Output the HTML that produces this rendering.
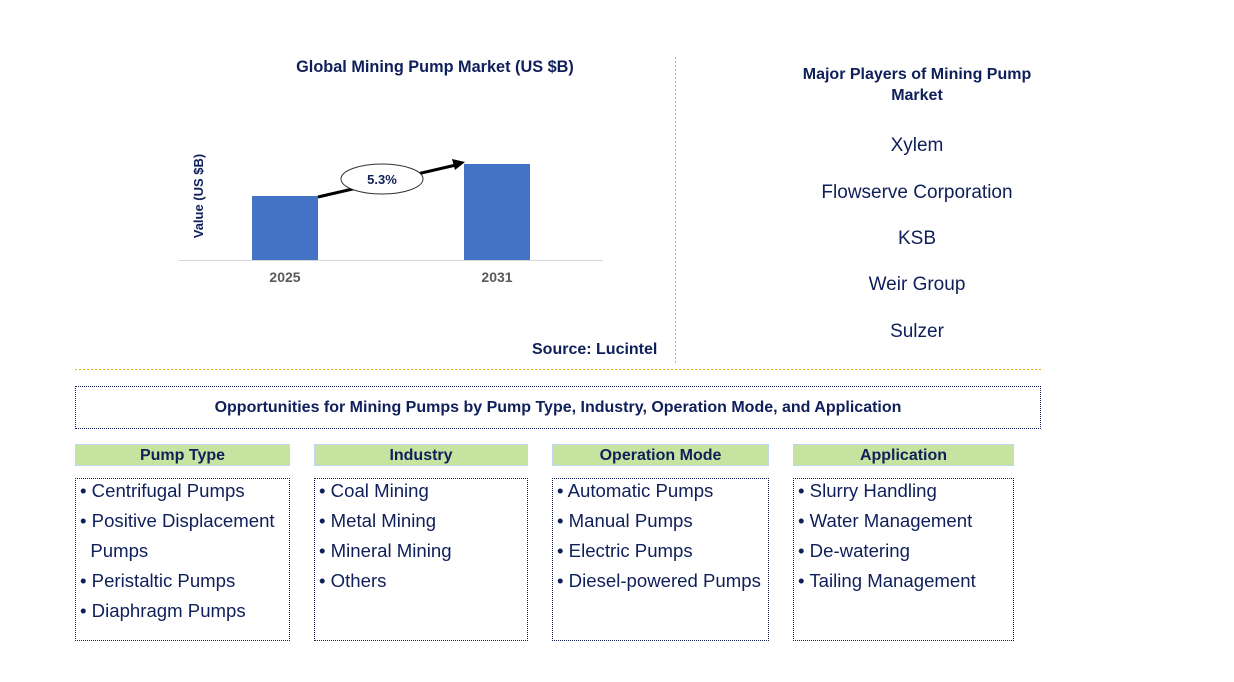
<!DOCTYPE html>
<html><head><meta charset="utf-8"><style>
body{margin:0;width:1234px;height:682px;background:#fff;font-family:"Liberation Sans",Arial,sans-serif;position:relative;overflow:hidden;color:#0f1f5a}
.a{position:absolute}
.t{font-weight:bold;font-size:16px;color:#0f1f5a;text-align:center}
.pl{font-size:19px;text-align:center;width:300px;left:767px;color:#0f1f5a}
.hd{position:absolute;top:444px;height:22px;background:#c6e4a0;border:1px solid #bdd7ee;box-sizing:border-box;font-weight:bold;font-size:16px;text-align:center;line-height:21px}
.bx{position:absolute;top:478px;height:163px;border:1px dotted #0f1f5a;box-sizing:border-box;font-size:18.6px;line-height:30px;padding:0 0 0 4px}
.bx span{position:relative;top:-3px;display:block}
</style></head><body>
<div class="a t" style="left:235px;top:58px;width:400px;font-size:16.3px">Global Mining Pump Market (US $B)</div>
<svg class="a" style="left:0;top:0" width="680" height="370">
<text x="203" y="196" transform="rotate(-90 203 196)" text-anchor="middle" font-size="13" font-weight="bold" fill="#0f1f5a" font-family="Liberation Sans">Value (US $B)</text>
<line x1="178" y1="260.5" x2="603" y2="260.5" stroke="#d9d9d9"/>
<g id="bars"></g>
<line x1="318" y1="197" x2="456" y2="165" stroke="#000" stroke-width="3"/>
<polygon points="465,162 452,159 455,170" fill="#000"/>
<ellipse cx="382" cy="179" rx="41" ry="15" fill="#fff" stroke="#333"/>
<text x="382" y="184" text-anchor="middle" font-size="13" font-weight="bold" fill="#0f1f5a" font-family="Liberation Sans">5.3%</text>
</svg>
<div class="a" style="left:532px;top:341px;font-weight:bold;font-size:16px">Source: Lucintel</div>
<div class="a" style="left:675px;top:57px;width:1px;height:308px;background:repeating-linear-gradient(to bottom,#f0b400 0 2px,transparent 2px 4px)"></div>
<div class="a" style="left:75px;top:369px;width:966px;height:1px;background:repeating-linear-gradient(to right,#f0b400 0 2px,transparent 2px 4px)"></div>
<div class="a t" style="left:767px;top:64px;width:300px;line-height:21px">Major Players of Mining Pump<br>Market</div>
<div class="a pl" style="top:135px">Xylem</div>
<div class="a pl" style="top:182px">Flowserve Corporation</div>
<div class="a pl" style="top:228px">KSB</div>
<div class="a pl" style="top:274px">Weir Group</div>
<div class="a pl" style="top:321px">Sulzer</div>
<div class="a t" style="left:75px;top:386px;width:966px;height:43px;border:1px dotted #0f1f5a;box-sizing:border-box;line-height:41px">Opportunities for Mining Pumps by Pump Type, Industry, Operation Mode, and Application</div>
<div class="hd" style="left:75px;width:215px">Pump Type</div>
<div class="hd" style="left:314px;width:214px">Industry</div>
<div class="hd" style="left:552px;width:217px">Operation Mode</div>
<div class="hd" style="left:793px;width:221px">Application</div>
<div class="bx" style="left:75px;width:215px"><span>• Centrifugal Pumps<br>• Positive Displacement<br>&nbsp;&nbsp;Pumps<br>• Peristaltic Pumps<br>• Diaphragm Pumps</span></div>
<div class="bx" style="left:314px;width:214px"><span>• Coal Mining<br>• Metal Mining<br>• Mineral Mining<br>• Others</span></div>
<div class="bx" style="left:552px;width:217px;white-space:nowrap"><span>• Automatic Pumps<br>• Manual Pumps<br>• Electric Pumps<br>• Diesel-powered Pumps</span></div>
<div class="bx" style="left:793px;width:221px"><span>• Slurry Handling<br>• Water Management<br>• De-watering<br>• Tailing Management</span></div>
<script>
const categories=["2025","2031"];
const values=[4.0,6.0];
const xCenters=[285,497];
function y(v){return 260-v*16;}
const g=document.getElementById('bars');const ns="http://www.w3.org/2000/svg";
categories.forEach((c,i)=>{
const r=document.createElementNS(ns,'rect');
r.setAttribute('x',xCenters[i]-33);r.setAttribute('width',66);
r.setAttribute('y',y(values[i]));r.setAttribute('height',260-y(values[i]));
r.setAttribute('fill','#4472c4');


g.appendChild(r);
const t=document.createElementNS(ns,'text');
t.setAttribute('x',xCenters[i]);t.setAttribute('y',282);t.setAttribute('text-anchor','middle');
t.setAttribute('font-size','14');t.setAttribute('font-weight','bold');t.setAttribute('fill','#595959');
t.setAttribute('font-family','Liberation Sans');t.textContent=c;


g.appendChild(t);
});
</script>
</body></html>
